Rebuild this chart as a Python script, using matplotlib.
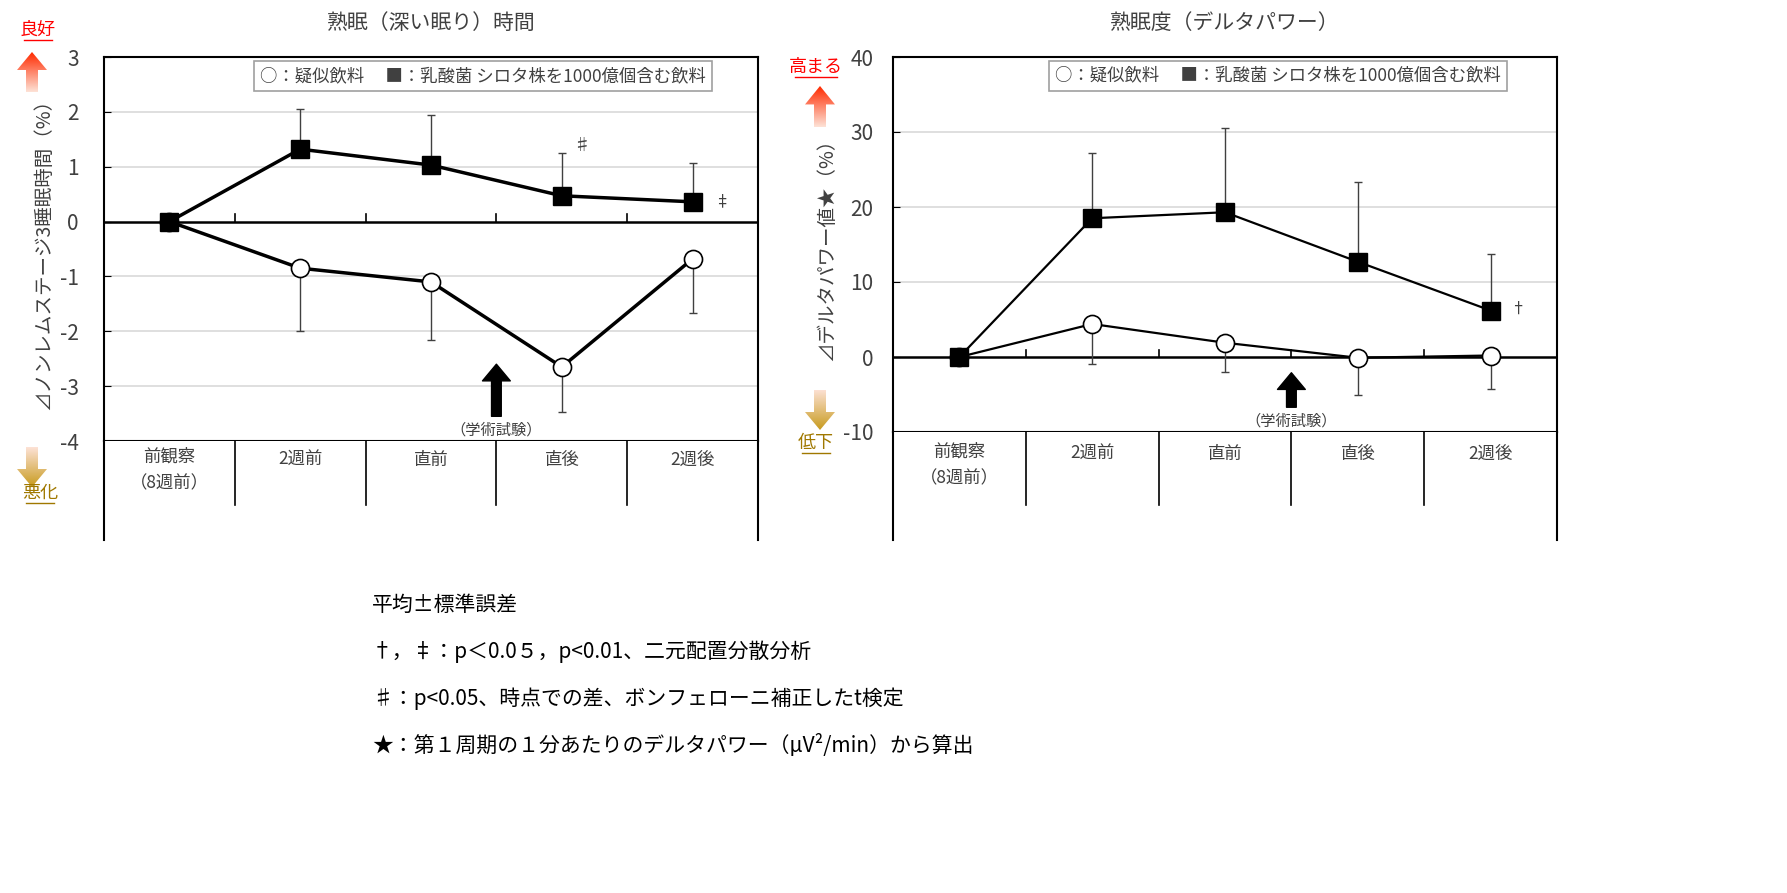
import numpy as np
import matplotlib
matplotlib.use("Agg")
import matplotlib.pyplot as plt
from matplotlib.path import Path
from matplotlib.patches import PathPatch

plt.rcParams['font.family'] = ['Noto Sans CJK JP', 'DejaVu Sans']

categories = ['前観察\n（8週前）', '2週前', '直前', '直後', '2週後']

# left: deep sleep time
left_probiotic = [0, 1.32, 1.03, 0.47, 0.36]
left_probiotic_err = [0, 0.73, 0.92, 0.78, 0.71]
left_placebo = [0, -0.85, -1.10, -2.65, -0.68]
left_placebo_err = [0, 1.15, 1.05, 0.83, 0.99]

# right: delta power
right_probiotic = [0, 18.5, 19.3, 12.7, 6.2]
right_probiotic_err = [0, 8.7, 11.2, 10.6, 7.5]
right_placebo = [0, 4.4, 1.9, -0.1, 0.2]
right_placebo_err = [0, 5.3, 3.9, 4.9, 4.4]

W, H = 1787, 893
fig = plt.figure(figsize=(W / 100, H / 100), dpi=100)


def frac(x0, y0, x1, y1):
    return [x0 / W, 1 - y1 / H, (x1 - x0) / W, (y1 - y0) / H]


def grad_arrow(x0, y0, x1, y1, up, c_tip, c_tail):
    ax = fig.add_axes(frac(x0, y0, x1, y1))
    ax.set_xlim(0, 1); ax.set_ylim(0, 1); ax.axis('off')
    t = np.linspace(0, 1, 100)[:, None]
    a = np.array(matplotlib.colors.to_rgb(c_tip)); b = np.array(matplotlib.colors.to_rgb(c_tail))
    if up:
        rgb = b + (a - b) * t
        pts = [(0.3, 0), (0.7, 0), (0.7, 0.55), (1, 0.55), (0.5, 1), (0, 0.55), (0.3, 0.55), (0.3, 0)]
    else:
        rgb = a + (b - a) * t
        pts = [(0.3, 1), (0.7, 1), (0.7, 0.45), (1, 0.45), (0.5, 0), (0, 0.45), (0.3, 0.45), (0.3, 1)]
    img = ax.imshow(rgb[:, None, :] * np.ones((1, 2, 1)), origin='lower', extent=(0, 1, 0, 1), aspect='auto')
    patch = PathPatch(Path(pts), transform=ax.transData, facecolor='none', edgecolor='none')
    ax.add_patch(patch)
    img.set_clip_path(patch)


def panel(box, tbl_bottom, ylim, yticks, probiotic, perr, placebo, plerr, title, ylabel,
          arrow_y, label_y, lw, pad):
    x0, y0, x1, y1 = box
    ax = fig.add_axes(frac(x0, y0, x1, y1))
    x = np.arange(len(categories))
    ax.set_xlim(-0.5, 4.5)
    ax.set_ylim(*ylim)
    for v in yticks:
        if v not in (ylim[0], 0):
            ax.axhline(v, color='#d9d9d9', lw=1.2, zorder=0)
    ax.axhline(0, color='black', lw=1.8, zorder=1)
    span = ylim[1] - ylim[0]
    for b in [0.5, 1.5, 2.5, 3.5]:
        ax.plot([b, b], [0, span * 0.02], color='black', lw=1.2)
    ax.errorbar(x[1:], np.array(probiotic[1:]), yerr=[np.zeros(4), perr[1:]], fmt='none',
                ecolor='#404040', elinewidth=1, capsize=3)
    ax.errorbar(x[1:], np.array(placebo[1:]), yerr=[plerr[1:], np.zeros(4)], fmt='none',
                ecolor='#404040', elinewidth=1, capsize=3)
    ax.plot(x, placebo, color='black', lw=lw, marker='o', ms=13, mfc='white', mec='black',
            mew=1.2, zorder=3)
    ax.plot(x, probiotic, color='black', lw=lw, marker='s', ms=13, mfc='black', mec='black',
            zorder=4)
    ax.set_yticks(yticks)
    ax.set_yticklabels([str(v) for v in yticks], fontsize=15, color='#404040')
    ax.tick_params(axis='y', length=5, direction='in', pad=pad)
    ax.set_xticks([])
    for s in ax.spines.values():
        s.set_linewidth(1.5)
    ax.set_ylabel(ylabel, fontsize=14, color='#404040', labelpad=4)
    t = ax.set_title(title, fontsize=15, color='#404040', pad=20)
    t.set_text(title)
    ax.text(0.58, 0.95, '○：疑似飲料　 ■：乳酸菌 シロタ株を1000億個含む飲料', transform=ax.transAxes,
            ha='center', va='center', fontsize=12.5, color='#404040',
            bbox=dict(boxstyle='square,pad=0.35', fc='white', ec='#a0a0a0', lw=1.2))
    ax.annotate('', xy=(2.5, arrow_y[1]), xytext=(2.5, arrow_y[0]),
                arrowprops=dict(facecolor='black', edgecolor='black', width=7, headwidth=20, headlength=12))
    ax.text(2.5, label_y, '（学術試験）', ha='center', va='center', fontsize=11, color='#404040')
    tb = fig.add_axes(frac(x0, y1, x1, tbl_bottom))
    tb.set_xlim(-0.5, 4.5); tb.set_ylim(0, 1)
    tb.set_xticks([]); tb.set_yticks([])
    tb.spines['bottom'].set_visible(False)
    tb.spines['top'].set_visible(False)
    for s in ('left', 'right'):
        tb.spines[s].set_linewidth(1.5)
    row = (505 - y1) / (tbl_bottom - y1)
    for b in [0.5, 1.5, 2.5, 3.5]:
        tb.plot([b, b], [1, 1 - row], color='black', lw=1.2)
    for i, c in enumerate(categories):
        tb.text(i, 1 - row * 0.45 if '\n' in c else 1 - row * 0.3, c, ha='center', va='center',
                fontsize=12.5, color='#404040', linespacing=1.6)
    return ax


axL = panel((104, 57, 758, 441), 540, (-4, 3), [-4, -3, -2, -1, 0, 1, 2, 3],
            left_probiotic, left_probiotic_err, left_placebo, left_placebo_err,
            '熟眠（深い眠り）時間', '⊿ノンレムステージ3睡眠時間（%）', (-3.55, -2.6), -3.8, 2.5, 18)
axL.text(3.15, 1.38, '♯', fontsize=12, ha='center', va='center', color='#404040')
axL.text(4.22, 0.36, '‡', fontsize=11, ha='center', va='center', color='#404040')

axR = panel((893, 57, 1557, 432), 540, (-10, 40), [-10, 0, 10, 20, 30, 40],
            right_probiotic, right_probiotic_err, right_placebo, right_placebo_err,
            '熟眠度（デルタパワー）', '⊿デルタパワー値★（%）', (-6.7, -2.1), -8.5, 1.6, 14)
axR.text(4.2, 6.4, '†', fontsize=11, ha='center', va='center', color='#404040')

grad_arrow(17, 52, 47, 92, True, '#ff2a00', '#fde2d6')
grad_arrow(17, 447, 47, 487, False, '#c89b1e', '#fde2d6')
fig.text(38 / W, 1 - 30 / H, '良好', color='red', fontsize=13, ha='center', va='center')
fig.text(40 / W, 1 - 493 / H, '悪化', color='#a07800', fontsize=13, ha='center', va='center')
grad_arrow(805, 86, 835, 127, True, '#ff2a00', '#fde2d6')
grad_arrow(805, 390, 835, 430, False, '#c89b1e', '#fde2d6')
fig.text(816 / W, 1 - 67 / H, '高まる', color='red', fontsize=13, ha='center', va='center')
fig.text(816 / W, 1 - 443 / H, '低下', color='#a07800', fontsize=13, ha='center', va='center')
for xc, y, wd in ((38, 40, 28), (40, 503, 28), (816, 77, 42), (816, 453, 28)):
    fig.add_artist(plt.Line2D([(xc - wd / 2) / W, (xc + wd / 2) / W], [1 - y / H] * 2,
                              color='red' if y < 100 else '#a07800', lw=1))

notes = ['平均±標準誤差',
         '†，‡：p＜0.0５，p<0.01、二元配置分散分析',
         '♯：p<0.05、時点での差、ボンフェローニ補正したt検定',
         '★：第１周期の１分あたりのデルタパワー（μV²/min）から算出']
for i, n in enumerate(notes):
    fig.text(372 / W, 1 - (605 + i * 47) / H, n, fontsize=15, color='black', va='center')

fig.savefig('out.png', dpi=100)
